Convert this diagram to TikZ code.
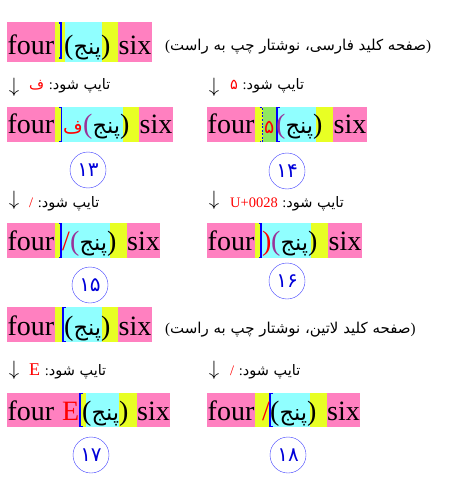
\documentclass[tikz,border=0pt]{standalone}
\usepackage{fontspec}
\setmainfont{Liberation Serif}
\newfontfamily\fa[Script=Arabic]{DejaVu Sans}
\TeXXeTstate=1
\definecolor{pinkc}{HTML}{FF80C0}
\definecolor{yelc}{HTML}{E8FF24}
\definecolor{cyanc}{HTML}{90FFFF}
\definecolor{greenc}{HTML}{90E860}
\definecolor{purp}{HTML}{993399}
\definecolor{ringc}{HTML}{3C3CFF}
\newcommand\pnj[1]{{\color{#1}(}{\fa\fontsize{22.5}{24}\selectfont\beginR پنج\endR})}
\newcommand\typed[1]{#1 {\rmfamily:}\beginR تایپ شود\endR}
\begin{document}
\begin{tikzpicture}[x=1pt,y=-1pt,
  word/.style={font=\fontsize{28}{30}\selectfont,anchor=base,inner sep=0pt},
  grp/.style={font=\fontsize{28}{30}\selectfont,anchor=base west,inner sep=0pt},
  redch/.style={font=\fontsize{28}{30}\selectfont,anchor=base west,inner sep=0pt,text=red},
  redfa/.style={font=\fa\fontsize{19}{24}\selectfont,anchor=base west,inner sep=0pt,text=red},
  lab/.style={font=\fa\fontsize{14.5}{16}\selectfont,anchor=base west,inner sep=0pt},
  capt/.style={font=\fa\fontsize{15}{17}\selectfont,anchor=base west,inner sep=0pt},
  arr/.style={font=\fontsize{21.5}{24}\selectfont,inner sep=0pt},
  num/.style={draw=ringc,circle,minimum size=36pt,inner sep=0pt,text=blue!85!black,
    font=\fa\fontsize{20}{22}\selectfont},
  cur/.style={blue,line width=1.3pt}]
\useasboundingbox (0,0) rectangle (471,484);
% row 1: Persian keyboard
\fill[pinkc] (7,22) rectangle (55,62);
\fill[yelc] (55,22) rectangle (65,62);
\fill[cyanc] (65,22) rectangle (102,62);
\fill[yelc] (102,22) rectangle (118,62);
\fill[pinkc] (118,22) rectangle (152,62);
\draw[cur] (58.5,23) -- (61,23) -- (61,58) -- (58.5,58);
\node[word] (r1four) at (31,55) {four};
\node[grp] (r1pnj) at (64,55) {\pnj{black}};
\node[word] (r1six) at (135,55) {six};
\node[capt] (r1cap) at (165,51) {{\rmfamily(}\beginR صفحه کلید فارسی، نوشتار چپ به راست\endR{\rmfamily)}};
% step 13
\node[arr] (a13) at (14,87.5) {$\downarrow$};
\node[lab] (l13) at (29,90) {\typed{{\color{red}ف}}};
\fill[pinkc] (7,107) rectangle (55,142);
\fill[yelc] (55,107) rectangle (62,142);
\fill[cyanc] (62,107) rectangle (123,142);
\fill[yelc] (123,107) rectangle (139,142);
\fill[pinkc] (139,107) rectangle (173,142);
\draw[cur] (59,107.5) -- (61.5,107.5) -- (61.5,141.5) -- (59,141.5);
\node[word] (r2four) at (31,133) {four};
\node[redfa] (r2fe) at (63,133) {ف};
\node[grp] (r2pnj) at (83,133) {\pnj{purp}};
\node[word] (r2six) at (156,133) {six};
\node[num] (n13) at (88,170) {۱۳};
% step 14
\node[arr] (a14) at (214,87.5) {$\downarrow$};
\node[lab] (l14) at (230,90) {\typed{{\color{red}۵}}};
\fill[pinkc] (207,107) rectangle (255,142);
\fill[yelc] (255,107) rectangle (263,142);
\fill[greenc] (263,107) rectangle (277,142);
\fill[cyanc] (277,107) rectangle (316,142);
\fill[yelc] (316,107) rectangle (333,142);
\fill[pinkc] (333,107) rectangle (367,142);
\draw[cur,line width=0.9pt,dash pattern=on 2pt off 1.5pt] (259.5,107.5) -- (262,107.5) -- (262,141.5) -- (259.5,141.5);
\draw[cur] (279.5,107.5) -- (277,107.5) -- (277,141.5) -- (279.5,141.5);
\node[word] (r2four') at (231,133) {four};
\node[redfa] (r2five) at (264,133) {۵};
\node[grp] (r2pnj') at (276,133) {\pnj{purp}};
\node[word] (r2six') at (350,133) {six};
\node[num] (n14) at (287,171) {۱۴};
% step 15
\node[arr] (a15) at (14,200.5) {$\downarrow$};
\node[lab] (l15) at (29,207) {\typed{{\color{red}\rmfamily /}}};
\fill[pinkc] (7,223) rectangle (55,258);
\fill[yelc] (55,223) rectangle (62,258);
\fill[cyanc] (62,223) rectangle (110,258);
\fill[yelc] (110,223) rectangle (127,258);
\fill[pinkc] (127,223) rectangle (160,258);
\draw[cur] (58.5,223.5) -- (61,223.5) -- (61,257.5) -- (58.5,257.5);
\node[word] (r3four) at (31,250) {four};
\node[redch] (r3sl) at (62,250) {/};
\node[grp] (r3pnj) at (70,250) {\pnj{purp}};
\node[word] (r3six) at (143.5,250) {six};
\node[num] (n15) at (90,285) {۱۵};
% step 16
\node[arr] (a16) at (214,200.5) {$\downarrow$};
\node[lab] (l16) at (230,207) {\typed{{\color{red}\rmfamily U+0028}}};
\fill[pinkc] (207,223) rectangle (255,258);
\fill[yelc] (255,223) rectangle (262,258);
\fill[cyanc] (262,223) rectangle (311,258);
\fill[yelc] (311,223) rectangle (328,258);
\fill[pinkc] (328,223) rectangle (362,258);
\draw[cur] (258.5,223.5) -- (261,223.5) -- (261,257.5) -- (258.5,257.5);
\node[word] (r3four') at (231,250) {four};
\node[redch] (r3par) at (262,250) {)};
\node[grp] (r3pnj') at (271,250) {\pnj{purp}};
\node[word] (r3six') at (345,250) {six};
\node[num] (n16) at (287,281) {۱۶};
% row 4: Latin keyboard
\fill[pinkc] (7,307) rectangle (55,342);
\fill[yelc] (55,307) rectangle (63,342);
\fill[cyanc] (63,307) rectangle (102,342);
\fill[yelc] (102,307) rectangle (118,342);
\fill[pinkc] (118,307) rectangle (152,342);
\draw[cur] (65.5,307.5) -- (63,307.5) -- (63,341.5) -- (65.5,341.5);
\node[word] (r4four) at (31,335) {four};
\node[grp] (r4pnj) at (64,335) {\pnj{black}};
\node[word] (r4six) at (135,335) {six};
\node[capt] (r4cap) at (165,333) {{\rmfamily(}\beginR صفحه کلید لاتین، نوشتار چپ به راست\endR{\rmfamily)}};
% step 17
\node[arr] (a17) at (14,370) {$\downarrow$};
\node[lab] (l17) at (29,375) {\typed{{\color{red}\rmfamily\fontsize{18}{19}\selectfont E}}};
\fill[pinkc] (7,393) rectangle (80,427);
\fill[yelc] (80,393) rectangle (86,427);
\fill[cyanc] (86,393) rectangle (119,427);
\fill[yelc] (119,393) rectangle (137,427);
\fill[pinkc] (137,393) rectangle (170,427);
\draw[cur] (82.5,393.5) -- (80,393.5) -- (80,426.5) -- (82.5,426.5);
\node[word] (r5four) at (31,420) {four};
\node[redch] (r5e) at (62,420) {E};
\node[grp] (r5pnj) at (82,420) {\pnj{black}};
\node[word] (r5six) at (153.5,420) {six};
\node[num] (n17) at (91,455) {۱۷};
% step 18
\node[arr] (a18) at (214,370) {$\downarrow$};
\node[lab] (l18) at (230,375) {\typed{{\color{red}\rmfamily /}}};
\fill[pinkc] (207,393) rectangle (255,427);
\fill[yelc] (255,393) rectangle (270,427);
\fill[cyanc] (270,393) rectangle (310,427);
\fill[yelc] (310,393) rectangle (327,427);
\fill[pinkc] (327,393) rectangle (360,427);
\draw[cur] (272.5,393.5) -- (270,393.5) -- (270,426.5) -- (272.5,426.5);
\node[word] (r5four') at (231,420) {four};
\node[redch] (r5sl) at (262,420) {/};
\node[grp] (r5pnj') at (270,420) {\pnj{black}};
\node[word] (r5six') at (343.5,420) {six};
\node[num] (n18) at (288,455) {۱۸};
\end{tikzpicture}
\end{document}
